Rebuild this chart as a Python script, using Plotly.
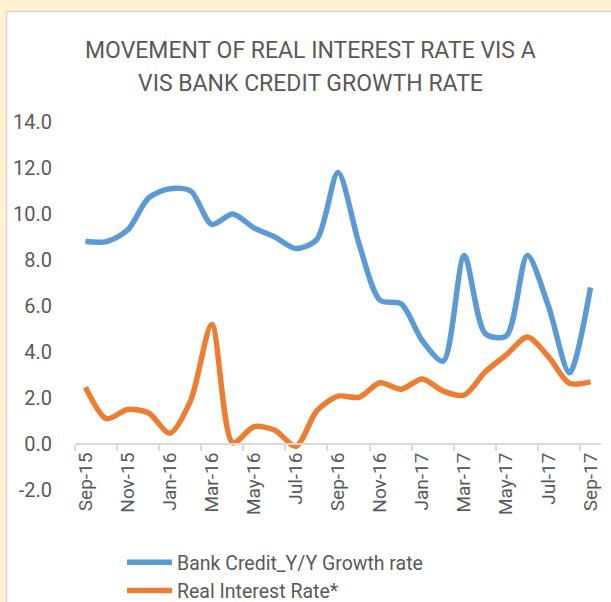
import plotly.graph_objects as go

# Monthly series, Sep-2015 .. Sep-2017
months = ["Sep-15", "Oct-15", "Nov-15", "Dec-15", "Jan-16", "Feb-16", "Mar-16",
          "Apr-16", "May-16", "Jun-16", "Jul-16", "Aug-16", "Sep-16", "Oct-16",
          "Nov-16", "Dec-16", "Jan-17", "Feb-17", "Mar-17", "Apr-17", "May-17",
          "Jun-17", "Jul-17", "Aug-17", "Sep-17"]

bank_credit_growth = [8.8, 8.8, 9.3, 10.7, 11.1, 11.0, 9.55, 10.0, 9.4, 9.0, 8.5,
                      8.9, 11.8, 8.7, 6.25, 6.1, 4.5, 3.6, 8.2, 4.8, 4.7, 8.2,
                      6.0, 3.1, 6.8]

real_interest_rate = [2.47, 1.1, 1.5, 1.35, 0.47, 1.9, 5.2, 0.05, 0.75, 0.6, -0.1,
                      1.45, 2.08, 2.03, 2.66, 2.38, 2.83, 2.3, 2.13, 3.14, 3.87,
                      4.65, 3.8, 2.64, 2.7]

title_lines = ["MOVEMENT OF REAL INTEREST RATE VIS A", "VIS BANK CREDIT GROWTH RATE"]
y_ticks = [-2, 0, 2, 4, 6, 8, 10, 12, 14]

W, H = 611, 602
L, R, T, B = 75, 10, 122, 112
plot_w = W - L - R
plot_h = H - T - B
FONT = "Roboto, Liberation Sans, sans-serif"
GREY_TXT = "#595959"


def px_x(p):
    return (p - L) / plot_w


def px_y(p):
    return (H - B - p) / plot_h


fig = go.Figure()
fig.add_trace(go.Scatter(
    x=months, y=bank_credit_growth, name="Bank Credit_Y/Y Growth rate",
    mode="lines", line=dict(color="#5B9BD5", width=5.5, shape="spline", smoothing=0.8),
))
fig.add_trace(go.Scatter(
    x=months, y=real_interest_rate, name="Real Interest Rate*",
    mode="lines", line=dict(color="#ED7D31", width=5.5, shape="spline", smoothing=0.8),
))

shapes = [
    # pale frame strips and thin border around the chart area
    dict(type="rect", xref="paper", yref="paper", x0=px_x(0), x1=px_x(W),
         y0=px_y(0), y1=px_y(10.5), fillcolor="#FFF2CC", line_width=0, layer="below"),
    dict(type="rect", xref="paper", yref="paper", x0=px_x(0), x1=px_x(5.5),
         y0=px_y(0), y1=px_y(H), fillcolor="#FFF2CC", line_width=0, layer="below"),
    dict(type="line", xref="paper", yref="paper", x0=px_x(6), x1=px_x(W),
         y0=px_y(11.5), y1=px_y(11.5), line=dict(color="#D4D4D4", width=1.5)),
    dict(type="line", xref="paper", yref="paper", x0=px_x(6.5), x1=px_x(6.5),
         y0=px_y(11), y1=px_y(H), line=dict(color="#D4D4D4", width=1.5)),
]

annotations = [
    dict(text=title_lines[0], xref="paper", yref="paper", x=px_x(310), y=px_y(50),
         showarrow=False, xanchor="center", yanchor="middle",
         font=dict(family=FONT, size=23, color=GREY_TXT)),
    dict(text=title_lines[1], xref="paper", yref="paper", x=px_x(310), y=px_y(83),
         showarrow=False, xanchor="center", yanchor="middle",
         font=dict(family=FONT, size=23, color=GREY_TXT)),
]

fig.update_layout(
    width=W, height=H,
    margin=dict(l=L, r=R, t=T, b=B, autoexpand=False),
    paper_bgcolor="white", plot_bgcolor="white",
    shapes=shapes, annotations=annotations,
    showlegend=True,
    legend=dict(x=px_x(122), y=px_y(543), xanchor="left", yanchor="top",
                orientation="v", font=dict(family=FONT, size=19.5, color=GREY_TXT),
                bgcolor="rgba(0,0,0,0)", itemwidth=45, tracegroupgap=0),
    xaxis=dict(
        type="category", range=[-0.5, 24.5], dtick=2, tickson="boundaries",
        ticks="outside", ticklen=6, tickcolor="#D9D9D9", tickwidth=1.5,
        showline=True, linecolor="#D9D9D9", linewidth=2,
        showgrid=False, zeroline=False, tickangle=-90,
        anchor="free", position=2 / 16, automargin=False,
        tickfont=dict(family=FONT, size=19, color=GREY_TXT),
    ),
    yaxis=dict(
        range=[-2, 14], tickvals=y_ticks, ticktext=[f"{v:.1f}" for v in y_ticks],
        showgrid=False, zeroline=False, showline=False, ticks="",
        ticklabelstandoff=22, automargin=False,
        tickfont=dict(family=FONT, size=20, color=GREY_TXT),
    ),
)

fig.write_html("out.html")
